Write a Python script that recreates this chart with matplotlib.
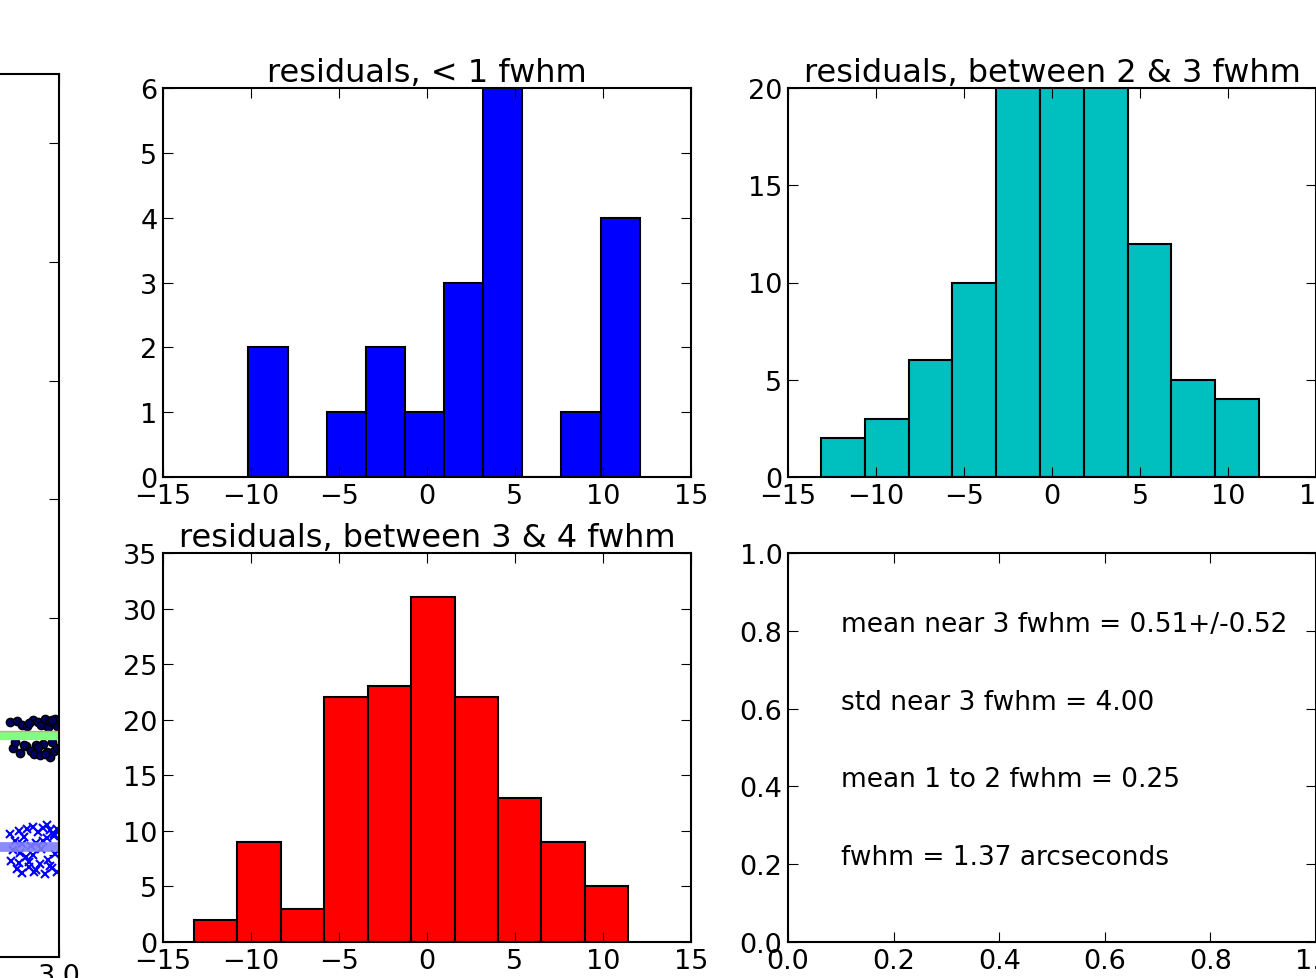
import numpy as np
import matplotlib
matplotlib.use("Agg")
import matplotlib.pyplot as plt
from matplotlib.ticker import MultipleLocator, FormatStrFormatter

# ---- histogram data (counts per bin, bin range) ----
counts_lt1 = [2, 0, 1, 2, 1, 3, 6, 0, 1, 4]
range_lt1 = (-10.15, 12.09)

counts_2to3 = [2, 3, 6, 10, 24, 27, 23, 12, 5, 4]
range_2to3 = (-13.13, 11.76)

counts_3to4 = [2, 9, 3, 22, 23, 31, 22, 13, 9, 5]
range_3to4 = (-13.24, 11.44)

# ---- summary statistics ----
stat_lines = [
    "mean near 3 fwhm = 0.51+/-0.52",
    "std near 3 fwhm = 4.00",
    "mean 1 to 2 fwhm = 0.25",
    "fwhm = 1.37 arcseconds",
]
stat_y = [0.8, 0.6, 0.4, 0.2]

# ---- residual profile (right end of the radial plot) ----
dots_x = [2.72, 2.74, 2.76, 2.78, 2.79, 2.81, 2.82, 2.84, 2.85, 2.86, 2.87,
          2.88, 2.89, 2.90, 2.91, 2.92, 2.93, 2.94, 2.95, 2.95, 2.96, 2.97,
          2.97, 2.98, 2.99, 2.99, 2.75, 2.80, 2.83, 2.88, 2.92, 2.96]
dots_y = [1.12, 0.90, 1.13, 0.86, 1.10, 0.92, 1.09, 0.88, 1.14, 0.85, 0.93,
          1.12, 0.84, 1.10, 0.94, 1.15, 0.87, 1.08, 0.83, 1.13, 0.95, 1.11,
          0.88, 1.15, 0.90, 1.09, 0.95, 0.93, 1.11, 0.91, 0.85, 1.14]
fit_dots = 1.0
fit_dots_alt = 1.045

cross_x = [2.72, 2.73, 2.75, 2.76, 2.77, 2.78, 2.79, 2.80, 2.81, 2.82, 2.83,
           2.84, 2.85, 2.86, 2.87, 2.88, 2.89, 2.90, 2.91, 2.92, 2.93, 2.94,
           2.95, 2.96, 2.97, 2.98, 2.99, 2.74, 2.79, 2.83, 2.87, 2.91, 2.95,
           2.99, 2.77, 2.85, 2.93, 2.97]
cross_y = [0.18, -0.05, 0.12, -0.12, 0.20, 0.02, -0.15, 0.15, -0.02, 0.22,
           -0.10, 0.08, 0.24, -0.14, 0.10, 0.19, -0.08, 0.05, 0.23, -0.16,
           0.14, -0.04, 0.21, -0.11, 0.16, 0.01, 0.22, 0.04, 0.09, -0.06,
           -0.13, 0.12, -0.09, -0.14, -0.07, 0.00, 0.25, 0.18]
fit_cross = 0.07

plt.rcParams.update({
    "font.family": "DejaVu Sans",
    "xtick.direction": "in",
    "ytick.direction": "in",
    "xtick.top": True,
    "ytick.right": True,
    "xtick.major.size": 7,
    "ytick.major.size": 7,
    "xtick.major.pad": 4,
    "ytick.major.pad": 4,
    "xtick.labelsize": 19.5,
    "ytick.labelsize": 19.5,
    "axes.linewidth": 1.5,
    "axes.titlesize": 23,
    "axes.titlepad": 5,
})

W, H = 1316, 979
fig = plt.figure(figsize=(W / 100, H / 100), dpi=100)


def box(x0, y0, x1, y1):
    return [x0 / W, 1 - y1 / H, (x1 - x0) / W, (y1 - y0) / H]


def histo(ax, counts, rng, color):
    edges = np.linspace(rng[0], rng[1], len(counts) + 1)
    ax.hist(edges[:-1], bins=edges, weights=counts, color=color,
            edgecolor="black", linewidth=1.5)
    ax.set_xlim(-15, 15)
    ax.xaxis.set_major_locator(MultipleLocator(5))


# radial residual profile
ax0 = fig.add_axes(box(-469, 75, 59, 958))
ax0.plot(cross_x, cross_y, "x", color="blue", ms=6, mew=1.5)
ax0.axhline(fit_cross, color="#7f7fff", lw=7, alpha=0.9)
ax0.plot(dots_x, dots_y, "o", mfc="#000060", mec="black", ms=6)
ax0.axhline(fit_dots, color="#80ff80", lw=6)
ax0.axhline(fit_dots_alt, color="#ff9090", lw=1)
ax0.set_xlim(0, 3.0)
ax0.set_ylim(-0.86, 6.585)
ax0.xaxis.set_major_locator(MultipleLocator(0.5))
ax0.yaxis.set_major_locator(MultipleLocator(1))
ax0.xaxis.set_major_formatter(FormatStrFormatter("%.1f"))
ax0.set_yticklabels([])

ax1 = fig.add_axes(box(163, 89, 691, 478))
histo(ax1, counts_lt1, range_lt1, "blue")
ax1.set_ylim(0, 6)
ax1.set_title("residuals, < 1 fwhm")

ax2 = fig.add_axes(box(788, 89, 1316, 478))
histo(ax2, counts_2to3, range_2to3, "#00bfbf")
ax2.set_ylim(0, 20)
ax2.yaxis.set_major_locator(MultipleLocator(5))
ax2.set_title("residuals, between 2 & 3 fwhm")

ax3 = fig.add_axes(box(163, 554, 691, 943))
histo(ax3, counts_3to4, range_3to4, "red")
ax3.set_ylim(0, 35)
ax3.set_title("residuals, between 3 & 4 fwhm")

ax4 = fig.add_axes(box(788, 554, 1316, 943))
ax4.set_xlim(0, 1)
ax4.set_ylim(0, 1)
ax4.xaxis.set_major_locator(MultipleLocator(0.2))
ax4.yaxis.set_major_locator(MultipleLocator(0.2))
for txt, y in zip(stat_lines, stat_y):
    ax4.text(0.1, y, txt, fontsize=19)

fig.savefig("out.png", dpi=100)
